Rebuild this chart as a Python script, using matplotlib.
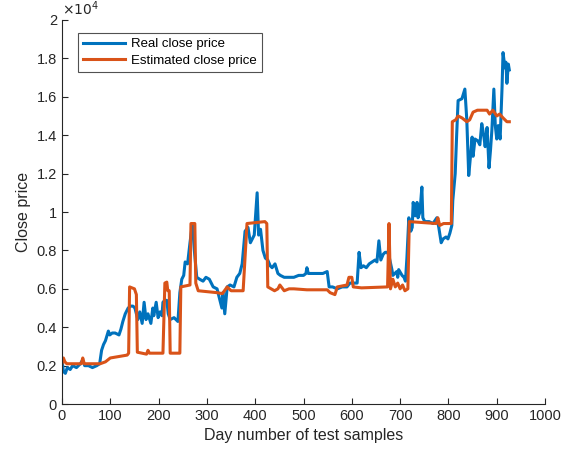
import matplotlib
matplotlib.use("Agg")
import matplotlib.pyplot as plt
from matplotlib.ticker import FuncFormatter

# real close price (day, price)
real_day = [0, 3, 7, 11, 17, 22, 30, 38, 43, 47, 55, 63, 72, 78, 82, 86, 90, 96, 99,
            104, 110, 118, 122, 126, 131, 137, 142, 147, 151, 157, 161, 166, 170, 174,
            178, 184, 188, 190, 195, 199, 203, 207, 209, 213, 217, 220, 224, 232, 240,
            244, 248, 252, 255, 260, 265, 270, 274, 279, 285, 292, 298, 305, 313, 321,
            327, 331, 333, 337, 342, 348, 356, 362, 368, 373, 379, 385, 390, 394, 398,
            404, 407, 411, 416, 421, 426, 431, 435, 441, 447, 452, 460, 470, 480, 490,
            500, 505, 507, 510, 520, 530, 540, 549, 553, 560, 570, 580, 590, 596, 605,
            611, 615, 619, 624, 630, 636, 642, 648, 652, 656, 660, 665, 669, 674, 677,
            683, 685, 693, 695, 697, 704, 708, 711, 714, 718, 722, 725, 727, 731, 735,
            737, 741, 745, 747, 751, 760, 768, 776, 780, 785, 789, 795, 799, 803, 807,
            809, 814, 817, 820, 828, 834, 838, 842, 846, 849, 851, 855, 861, 865, 869,
            873, 876, 880, 884, 887, 890, 894, 897, 900, 903, 907, 911, 913, 917, 919,
            921, 924, 926]
real_price = [2300, 1700, 1600, 1900, 1800, 2000, 1900, 2100, 2300, 2000, 2000, 1900,
              2000, 2100, 2800, 3100, 3300, 3800, 3600, 3700, 3700, 3600, 3900, 4300,
              4700, 5000, 5100, 5100, 5000, 4400, 4800, 4200, 5300, 4400, 4700, 4200,
              5000, 4600, 5300, 4500, 4800, 4600, 5300, 5400, 5400, 4700, 4400, 4500,
              4300, 5800, 6500, 6700, 7400, 7300, 8400, 9400, 8000, 6600, 6500, 6400,
              6600, 6500, 6100, 6000, 5400, 5000, 5800, 4700, 6100, 6200, 6100, 6600,
              6800, 7300, 9000, 9200, 8400, 8600, 8800, 11000, 8800, 9100, 8000, 7600,
              7500, 7200, 7100, 7300, 6800, 6700, 6600, 6600, 6600, 6700, 6700, 6800,
              7100, 6800, 6800, 6800, 6800, 6900, 6100, 6100, 6000, 6100, 6100, 6300,
              6300, 6300, 7900, 7100, 7200, 7100, 7300, 7400, 7500, 7400, 8500, 7500,
              7800, 7900, 7900, 7700, 7000, 6700, 6900, 6600, 7000, 6700, 6600, 6400,
              7600, 9700, 9000, 9200, 10500, 9800, 10500, 9700, 10000, 11300, 9700,
              9500, 9500, 9400, 9700, 9200, 8400, 8600, 8700, 8600, 8900, 9300, 10600,
              12000, 14000, 15800, 15900, 16400, 14800, 11900, 13000, 13900, 12900,
              13800, 13700, 13500, 14600, 14000, 13400, 14400, 12300, 13200, 14300,
              16400, 14500, 13800, 14500, 13800, 16500, 18300, 17500, 17800, 16700,
              17700, 17400]

# estimated close price (day, price)
est_day = [0, 3, 6, 10, 40, 43, 46, 79, 90, 100, 135, 138, 140, 150, 154, 156, 175,
           178, 181, 209, 213, 217, 219, 222, 224, 244, 246, 265, 267, 275, 277, 282,
           321, 332, 342, 350, 375, 383, 420, 424, 426, 440, 447, 451, 460, 470, 480,
           507, 549, 555, 565, 570, 590, 594, 600, 603, 620, 674, 677, 680, 685, 690,
           695, 700, 705, 710, 716, 719, 775, 778, 782, 790, 806, 808, 815, 820, 828,
           838, 844, 851, 860, 880, 885, 892, 900, 906, 913, 921, 926]
est_price = [2100, 2400, 2200, 2100, 2100, 2400, 2100, 2100, 2200, 2400, 2550, 2650,
             6100, 6000, 5700, 2700, 2600, 2800, 2650, 2650, 6300, 6350, 5900, 5900,
             2650, 2650, 6100, 6200, 9400, 9400, 6300, 5900, 5800, 5750, 6100, 5900,
             5900, 9400, 9500, 9400, 6100, 5900, 6000, 6200, 5900, 6000, 6000, 5950,
             5950, 5800, 5700, 6100, 6200, 6600, 6600, 6100, 6050, 6100, 9400, 6000,
             6500, 6100, 6300, 6000, 6200, 5900, 6000, 9500, 9400, 9700, 9300, 9400,
             9400, 14700, 14800, 15000, 14900, 14700, 14800, 15200, 15300, 15300,
             15100, 15300, 15000, 15100, 14900, 14700, 14700]

blue = "#0072BD"
orange = "#D95319"
dark = "#262626"

plt.rcParams["font.family"] = ["Liberation Sans", "DejaVu Sans"]

fig = plt.figure(figsize=(5.65, 4.53), dpi=100)
ax = fig.add_axes([0.1097, 0.108, 0.855, 0.848])

ax.plot(real_day, real_price, color=blue, lw=2.2, label="Real close price")
ax.plot(est_day, est_price, color=orange, lw=2.2, label="Estimated close price")

ax.set_xlim(0, 1000)
ax.set_ylim(0, 20000)
ax.set_xticks(range(0, 1001, 100))
ax.set_yticks(range(0, 20001, 2000))
ax.yaxis.set_major_formatter(FuncFormatter(lambda v, p: f"{v / 1e4:g}"))

for s in ["top", "right"]:
    ax.spines[s].set_visible(False)
for s in ["left", "bottom"]:
    ax.spines[s].set_color(dark)
    ax.spines[s].set_linewidth(0.8)
ax.tick_params(direction="in", length=4, width=0.8, colors=dark, labelsize=10.5)

ax.set_xlabel("Day number of test samples", fontsize=11.5, color=dark)
ax.set_ylabel("Close price", fontsize=11.5, color=dark)
ax.text(0.0, 1.005, r"$\times10^{4}$", transform=ax.transAxes, fontsize=10,
        color=dark, ha="left", va="bottom")

leg = ax.legend(loc="upper left", bbox_to_anchor=(0.033, 0.965), fontsize=9.5,
                fancybox=False, edgecolor=dark, handlelength=3.2,
                borderaxespad=0.0, labelspacing=0.35, handletextpad=0.5,
                borderpad=0.35)
leg.get_frame().set_linewidth(0.8)

fig.savefig("out.png", dpi=100)
